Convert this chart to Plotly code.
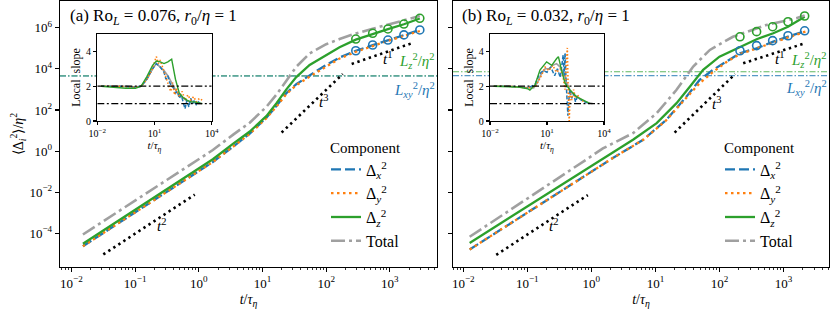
import numpy as np
import plotly.graph_objects as go

# ---------------- data (log10 values) ----------------
# Panel (a)  Ro_L = 0.076
a_logt = [-1.82, -1.0, -0.52, 0.0, 0.22, 0.54, 0.8, 1.06, 1.22, 1.375, 1.53, 1.74, 2.0, 2.21, 2.465, 2.73, 2.97, 3.22, 3.47]
a_z = [-4.51, -2.87, -1.91, -0.85, -0.40, 0.36, 0.95, 1.7, 2.33, 3.0, 3.6, 4.19, 4.67, 5.05, 5.42, 5.70, 5.93, 6.17, 6.45]
a_x = [-4.63, -2.99, -2.03, -0.98, -0.53, 0.22, 0.85, 1.62, 2.2, 2.82, 3.25, 3.68, 4.19, 4.55, 4.88, 5.15, 5.40, 5.64, 5.89]
a_y = [-4.63, -2.99, -2.03, -0.98, -0.53, 0.22, 0.84, 1.6, 2.17, 2.78, 3.2, 3.62, 4.12, 4.5, 4.83, 5.12, 5.36, 5.60, 5.84]
a_tot = [-4.06, -2.42, -1.46, -0.40, 0.05, 0.8, 1.38, 2.15, 2.75, 3.42, 4.1, 4.75, 5.2, 5.45, 5.72, 5.95, 6.15, 6.35, 6.57]
a_mk_logt = [2.465, 2.73, 2.97, 3.22, 3.47]
a_mk_z = [5.45, 5.73, 5.94, 6.18, 6.46]
a_mk_x = [4.88, 5.16, 5.40, 5.65, 5.89]
a_Lz, a_Lxy = 3.66, 3.65

# Panel (b)  Ro_L = 0.032
b_logt_z = [-1.90, -1.0, -0.5, 0.0, 0.237, 0.65, 1.02, 1.33, 1.54, 1.745, 2.0, 2.32, 2.58, 2.84, 3.07, 3.33]
b_z = [-4.47, -2.70, -1.72, -0.75, -0.25, 0.55, 1.36, 2.33, 3.14, 3.95, 4.59, 5.08, 5.44, 5.73, 6.05, 6.53]
b_logt_xy = [-1.90, -1.0, -0.5, 0.0, 0.335, 0.81, 1.17, 1.485, 1.69, 1.90, 2.11, 2.32, 2.58, 2.84, 3.10, 3.35]
b_x = [-4.79, -3.0, -2.0, -1.0, -0.34, 0.55, 1.52, 2.65, 3.46, 3.95, 4.35, 4.76, 5.0, 5.32, 5.60, 5.85]
b_y = [-4.79, -3.0, -2.0, -1.0, -0.34, 0.55, 1.50, 2.60, 3.30, 3.85, 4.33, 4.72, 5.0, 5.30, 5.58, 5.82]
b_logt_tot = [-1.90, -1.0, -0.5, 0.0, 0.18, 0.65, 1.02, 1.33, 1.59, 1.85, 2.21, 2.73, 3.20, 3.33]
b_tot = [-4.17, -2.33, -1.31, -0.25, 0.13, 0.87, 1.84, 2.98, 4.11, 4.92, 5.56, 6.13, 6.46, 6.6]
b_mk_logt = [2.32, 2.58, 2.83, 3.07, 3.33]
b_mk_z = [5.56, 5.81, 6.05, 6.29, 6.57]
b_mk_x = [4.88, 5.13, 5.37, 5.61, 5.85]
b_Lz, b_Lxy = 3.86, 3.67

# power-law guide lines: (log t, log value) end points
a_t2 = ([-1.50, -0.064], [-5.03, -2.12])
a_t3 = ([1.30, 2.26], [0.90, 3.75])
a_t1 = ([2.40, 3.34], [4.24, 5.24])
b_t2 = ([-1.485, -0.055], [-5.05, -2.14])
b_t3 = ([1.30, 2.245], [0.90, 3.75])
b_t1 = ([2.37, 3.30], [4.27, 5.21])

# inset local slopes
ai_tot_t = [-1.8, -1, -0.5, 0, 0.3, 0.6, 0.9, 1.1, 1.3, 1.5, 1.7, 1.9, 2.1, 2.3, 2.5, 2.7, 2.9, 3.1, 3.3, 3.5]
ai_tot = [2, 2, 2, 1.95, 2.0, 2.4, 3.0, 3.3, 3.1, 2.9, 2.6, 2.2, 1.8, 1.5, 1.3, 1.15, 1.1, 1.05, 1.0, 1.0]
ai_z_t = [-1.8, -1, -0.5, 0, 0.3, 0.6, 0.9, 1.1, 1.3, 1.5, 1.7, 1.9, 2.0, 2.1, 2.3, 2.5, 2.7, 2.9, 3.1, 3.3, 3.5]
ai_z = [2, 1.9, 1.88, 1.88, 2.0, 2.55, 3.2, 3.45, 3.4, 3.3, 3.4, 3.55, 3.0, 2.4, 1.6, 1.35, 1.2, 1.1, 1.1, 1.05, 1.0]
ai_x_t = [-1.8, -1, 0, 0.3, 0.6, 0.9, 1.1, 1.3, 1.5, 1.6, 1.7, 1.8, 1.9, 2.0, 2.1, 2.2, 2.3, 2.4, 2.5, 2.6, 2.7, 2.8, 2.9, 3.0, 3.1, 3.2, 3.3, 3.4]
ai_x = [2, 2, 1.95, 2.0, 2.4, 3.0, 3.3, 3.1, 2.8, 2.4, 2.6, 2.2, 2.0, 1.9, 1.6, 1.7, 1.3, 1.5, 1.1, 0.7, 1.2, 0.8, 1.3, 1.0, 1.2, 0.9, 1.1, 1.0]
ai_y_t = [-1.8, -1, 0, 0.3, 0.6, 0.9, 1.0, 1.1, 1.2, 1.3, 1.45, 1.6, 1.75, 1.85, 1.95, 2.05, 2.15, 2.3, 2.45, 2.6, 2.75, 2.9, 3.05, 3.2, 3.35, 3.5]
ai_y = [2, 2, 1.95, 2.0, 2.4, 3.0, 3.4, 3.7, 3.3, 3.5, 3.0, 2.5, 2.1, 1.7, 2.2, 1.5, 1.9, 1.4, 1.7, 1.2, 1.5, 1.2, 1.4, 1.1, 1.3, 1.2]

bi_tot_t = [-1.8, -1, -0.5, 0, 0.3, 0.5, 0.7, 0.9, 1.1, 1.3, 1.5, 1.7, 1.9, 2.0, 2.1, 2.2, 2.4, 2.6, 2.8, 3.0, 3.2, 3.4]
bi_tot = [2, 2, 1.95, 1.9, 1.9, 2.2, 2.7, 3.0, 3.0, 3.2, 3.3, 3.1, 2.7, 2.3, 2.0, 1.8, 1.5, 1.35, 1.2, 1.1, 1.05, 1.0]
bi_z_t = [-1.8, -1, -0.5, 0, 0.1, 0.37, 0.63, 0.98, 1.25, 1.51, 1.6, 1.77, 1.95, 2.21, 2.56, 2.91, 3.26]
bi_z = [2, 1.95, 1.95, 1.85, 1.78, 2.07, 2.93, 3.4, 3.2, 3.59, 3.7, 2.91, 2.17, 1.78, 1.39, 1.2, 1.0]
bi_x_t = [-1.8, -1, 0, 0.37, 0.6, 0.8, 1.0, 1.2, 1.4, 1.55, 1.7, 1.8, 1.85, 1.9, 1.95, 2.0, 2.05, 2.1, 2.15, 2.2, 2.3, 2.4, 2.5, 2.6, 2.8, 3.0, 3.2]
bi_x = [2, 2, 1.9, 2.1, 2.7, 2.9, 2.8, 3.1, 2.6, 3.0, 2.5, 3.2, 3.8, 2.6, 3.9, 2.4, 1.5, 0.3, 1.2, 1.8, 1.3, 1.6, 1.1, 1.4, 1.2, 1.1, 1.0]
bi_y_t = [-1.8, -1, 0, 0.4, 0.7, 0.9, 1.1, 1.3, 1.5, 1.7, 1.85, 1.95, 2.0, 2.07, 2.12, 2.17, 2.22, 2.3, 2.4, 2.5, 2.6, 2.8, 3.0]
bi_y = [2, 2, 1.9, 2.0, 2.6, 3.1, 2.9, 3.2, 2.8, 3.0, 2.5, 1.8, 3.0, 4.2, 1.5, 0.0, 1.6, 1.2, 1.8, 1.3, 1.5, 1.2, 1.1]

main_xticks = [-2, -1, 0, 1, 2, 3]
main_yticks = [-4, -2, 0, 2, 4, 6]
inset_xticks = [-2, 1, 4]
inset_yticks = [0, 2, 4]
slope_refs = [2, 1]

# ---------------- styling ----------------
FONT = "Liberation Serif"
C_X, C_Y, C_Z, C_T = "#1f77b4", "#ff7f0e", "#2ca02c", "#a0a0a0"
DASH_X, DASH_Y, DASH_T = "10px,4px", "2.5px,3.5px", "14px,4px,3px,4px"


def p10(v):
    return [10.0 ** e for e in v]


def sup(e):
    return "10<sup>" + (str(e) if e >= 0 else "\u2212" + str(-e)) + "</sup>"


fig = go.Figure()


def add_panel(xa, ya, legend, data):
    (tz, z, txy, x, y, tt, tot, mkt, mkz, mkx, t2, t3, t1) = data
    fig.add_trace(go.Scatter(x=p10(txy), y=p10(x), mode="lines", name="\u0394<sub><i>x</i></sub><sup>2</sup>",
                             line=dict(color=C_X, width=2.3, dash=DASH_X), xaxis=xa, yaxis=ya, legend=legend))
    fig.add_trace(go.Scatter(x=p10(txy), y=p10(y), mode="lines", name="\u0394<sub><i>y</i></sub><sup>2</sup>",
                             line=dict(color=C_Y, width=2.3, dash=DASH_Y), xaxis=xa, yaxis=ya, legend=legend))
    fig.add_trace(go.Scatter(x=p10(tz), y=p10(z), mode="lines", name="\u0394<sub><i>z</i></sub><sup>2</sup>",
                             line=dict(color=C_Z, width=2.3), xaxis=xa, yaxis=ya, legend=legend))
    fig.add_trace(go.Scatter(x=p10(tt), y=p10(tot), mode="lines", name="Total",
                             line=dict(color=C_T, width=2.6, dash=DASH_T), xaxis=xa, yaxis=ya, legend=legend))
    fig.add_trace(go.Scatter(x=p10(mkt), y=p10(mkz), mode="markers", showlegend=False,
                             marker=dict(symbol="circle-open", size=8, color=C_Z, line=dict(width=1.6)),
                             xaxis=xa, yaxis=ya))
    fig.add_trace(go.Scatter(x=p10(mkt), y=p10(mkx), mode="markers", showlegend=False,
                             marker=dict(symbol="circle-open", size=8, color=C_X, line=dict(width=1.6)),
                             xaxis=xa, yaxis=ya))
    for ref in (t2, t3, t1):
        fig.add_trace(go.Scatter(x=p10(ref[0]), y=p10(ref[1]), mode="lines", showlegend=False,
                                 line=dict(color="black", width=2.6, dash="2.4px,3.6px"),
                                 xaxis=xa, yaxis=ya))


add_panel("x", "y", "legend",
          (a_logt, a_z, a_logt, a_x, a_y, a_logt, a_tot, a_mk_logt, a_mk_z, a_mk_x, a_t2, a_t3, a_t1))
add_panel("x2", "y2", "legend2",
          (b_logt_z, b_z, b_logt_xy, b_x, b_y, b_logt_tot, b_tot, b_mk_logt, b_mk_z, b_mk_x, b_t2, b_t3, b_t1))


def add_inset(xa, ya, series):
    for t, s, col, dash, w in series:
        fig.add_trace(go.Scatter(x=p10(t), y=s, mode="lines", showlegend=False,
                                 line=dict(color=col, width=w, dash=dash), xaxis=xa, yaxis=ya))
    for r in slope_refs:
        fig.add_trace(go.Scatter(x=[10.0 ** inset_xticks[0], 10.0 ** inset_xticks[-1]], y=[r, r], mode="lines",
                                 showlegend=False, line=dict(color="black", width=1.3, dash="7px,2.5px,2px,2.5px"),
                                 xaxis=xa, yaxis=ya))


add_inset("x3", "y3", [(ai_tot_t, ai_tot, C_T, "solid", 1.6), (ai_x_t, ai_x, C_X, "4px,2px", 1.5),
                       (ai_y_t, ai_y, C_Y, "1.5px,2px", 1.6), (ai_z_t, ai_z, C_Z, "solid", 1.4)])
add_inset("x4", "y4", [(bi_tot_t, bi_tot, C_T, "solid", 1.6), (bi_x_t, bi_x, C_X, "4px,2px", 1.5),
                       (bi_y_t, bi_y, C_Y, "1.5px,2px", 1.6), (bi_z_t, bi_z, C_Z, "solid", 1.4)])

# ---------------- layout ----------------
W, H = 831, 312
ML, MR, MT, MB = 60, 2, 1, 45
pw, ph = W - ML - MR, H - MT - MB


def px_x(p):
    return (p - ML) / pw


def px_y(p):
    return (H - MB - p) / ph


dom_a = [px_x(60), px_x(437)]
dom_b = [px_x(453), px_x(829)]
ins_a = [px_x(97.3), px_x(211.7)]
ins_b = [px_x(490), px_x(604)]
ins_y = [px_y(121), px_y(34)]

axis_common = dict(showline=True, linecolor="black", linewidth=1.3, mirror=True, showgrid=False,
                   zeroline=False, ticks="outside", tickcolor="black", tickwidth=1.1,
                   tickfont=dict(family=FONT, size=13, color="black"))
small_tf = dict(family=FONT, size=10, color="black")
xtt = dict(text="<i>t</i>/<i>\u03c4</i><sub><i>\u03b7</i></sub>", font=dict(family=FONT, size=14), standoff=4)
minor = dict(ticks="outside", ticklen=2, tickcolor="black", tickwidth=0.8, dtick="D1", showgrid=False)
ins_xt = dict(text="<i>t</i>/<i>\u03c4</i><sub><i>\u03b7</i></sub>", font=dict(family=FONT, size=11), standoff=0)
ins_yt = dict(text="Local\u2002slope", font=dict(family=FONT, size=12), standoff=2)
leg_common = dict(xanchor="left", yanchor="top", bgcolor="rgba(0,0,0,0)",
                  title=dict(text="Component", side="top center", font=dict(family=FONT, size=15)),
                  font=dict(family=FONT, size=16), tracegroupgap=0)

fig.update_layout(
    width=W, height=H, margin=dict(l=ML, r=MR, t=MT, b=MB, autoexpand=False),
    paper_bgcolor="white", plot_bgcolor="white",
    font=dict(family=FONT, color="black"),
    xaxis=dict(domain=dom_a, anchor="y", type="log", range=[-2.18, 3.74],
               tickvals=p10(main_xticks), ticktext=[sup(e) for e in main_xticks], ticklen=4,
               minor=minor, title=xtt, **axis_common),
    yaxis=dict(domain=[0, 1], anchor="x", type="log", range=[-5.64, 7.3],
               tickvals=p10(main_yticks), ticktext=[sup(e) for e in main_yticks], ticklen=4,
               title=dict(text="\u27e8\u0394<sub><i>i</i></sub><sup>2</sup>\u27e9/<i>\u03b7</i><sup>2</sup>",
                          font=dict(family=FONT, size=14), standoff=2),
               **axis_common),
    xaxis2=dict(domain=dom_b, anchor="y2", type="log", range=[-2.16, 3.71],
                tickvals=p10(main_xticks), ticktext=[sup(e) for e in main_xticks], ticklen=4,
                minor=minor, title=xtt, **axis_common),
    yaxis2=dict(domain=[0, 1], anchor="x2", type="log", range=[-5.64, 7.3],
                tickvals=p10(main_yticks), showticklabels=False, ticklen=4, **axis_common),
    xaxis3=dict(domain=ins_a, anchor="y3", type="log", range=[-2, 4],
                tickvals=p10(inset_xticks), ticktext=[sup(e) for e in inset_xticks], ticklen=3,
                title=ins_xt, **{**axis_common, "tickfont": small_tf}),
    yaxis3=dict(domain=ins_y, anchor="x3", range=[0, 5], tickvals=inset_yticks, ticklen=3,
                title=ins_yt, **{**axis_common, "tickfont": small_tf}),
    xaxis4=dict(domain=ins_b, anchor="y4", type="log", range=[-2, 4],
                tickvals=p10(inset_xticks), ticktext=[sup(e) for e in inset_xticks], ticklen=3,
                title=ins_xt, **{**axis_common, "tickfont": small_tf}),
    yaxis4=dict(domain=ins_y, anchor="x4", range=[0, 5], tickvals=inset_yticks, ticklen=3,
                title=ins_yt, **{**axis_common, "tickfont": small_tf}),
    legend=dict(x=px_x(326), y=px_y(133), **leg_common),
    legend2=dict(x=px_x(720), y=px_y(133), **leg_common),
)

# L^2/eta^2 horizontal reference lines and white inset background (drawn below traces)
shapes = []
for xr, yr, lz, lxy, ins, dom in (("x domain", "y", a_Lz, a_Lxy, ins_a, dom_a),
                                  ("x2 domain", "y2", b_Lz, b_Lxy, ins_b, dom_b)):
    for val, col in ((lz, C_Z), (lxy, C_X)):
        shapes.append(dict(type="line", xref=xr, yref=yr, x0=0, x1=1, y0=10.0 ** val, y1=10.0 ** val,
                           layer="below", line=dict(color=col, width=1.1, dash="6px,2px,1.5px,2px"), opacity=0.75))
    x0 = (ins[0] - dom[0]) / (dom[1] - dom[0])
    x1 = (ins[1] - dom[0]) / (dom[1] - dom[0])
    shapes.append(dict(type="rect", xref=xr, yref=yr + " domain", x0=x0, x1=x1,
                       y0=ins_y[0], y1=ins_y[1], layer="below", fillcolor="white", line=dict(width=0)))
fig.update_layout(shapes=shapes)

# text annotations
ann = []
TF = dict(family=FONT, size=15, color="black")
for xr, yr, t2p, t3p, t1p, lzy, lxyy in (("x", "y", (-0.58, -3.6), (1.95, 2.42), (2.955, 4.52), 4.37, 2.97),
                                         ("x2", "y2", (-0.585, -3.6), (1.95, 2.35), (2.94, 4.52), 4.45, 3.06)):
    for (px, py), lab in ((t2p, "2"), (t3p, "3"), (t1p, "1")):
        ann.append(dict(x=px, y=py, xref=xr, yref=yr, text="<i>t</i><sup>" + lab + "</sup>", showarrow=False,
                        font=TF))
    ann.append(dict(x=1.0, y=lzy, xref=xr + " domain", yref=yr, xanchor="right", showarrow=False,
                    text="<i>L</i><sub><i>z</i></sub><sup>2</sup>/<i>\u03b7</i><sup>2</sup>",
                    font=dict(family=FONT, size=15, color=C_Z)))
    ann.append(dict(x=1.0, y=lxyy, xref=xr + " domain", yref=yr, xanchor="right", showarrow=False,
                    text="<i>L</i><sub><i>xy</i></sub><sup>2</sup>/<i>\u03b7</i><sup>2</sup>",
                    font=dict(family=FONT, size=15, color=C_X)))
ann.append(dict(x=0.02, y=0.99, xref="x domain", yref="y domain", xanchor="left", yanchor="top", showarrow=False,
                text="(a) Ro<sub><i>L</i></sub> = 0.076, <i>r</i><sub>0</sub>/<i>\u03b7</i> = 1",
                font=dict(family=FONT, size=17, color="black")))
ann.append(dict(x=0.018, y=0.99, xref="x2 domain", yref="y2 domain", xanchor="left", yanchor="top",
                showarrow=False,
                text="(b) Ro<sub><i>L</i></sub> = 0.032, <i>r</i><sub>0</sub>/<i>\u03b7</i> = 1",
                font=dict(family=FONT, size=17, color="black")))
fig.update_layout(annotations=ann)

fig.write_html("out.html", config={"displayModeBar": False, "staticPlot": True},
               post_script="document.body.style.margin='0px';document.body.style.padding='0px';")
